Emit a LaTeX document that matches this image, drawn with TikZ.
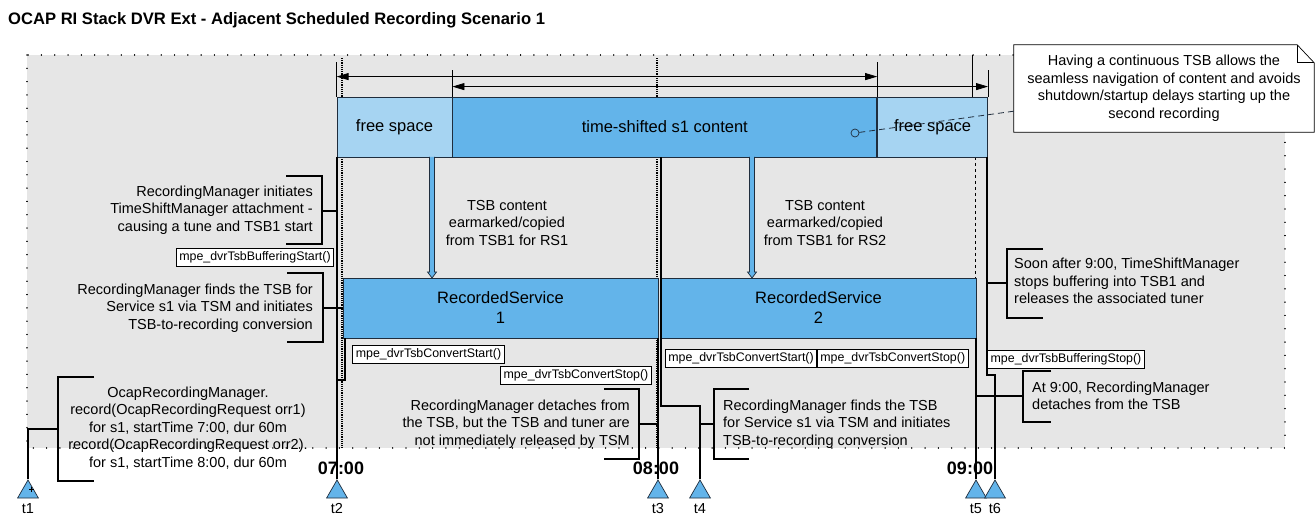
\documentclass[tikz,border=0pt]{standalone}
\usepackage{fontspec}
\setmainfont{Liberation Sans}
\usetikzlibrary{shapes.geometric}
\usetikzlibrary{positioning}
\usetikzlibrary{arrows.meta}
\usetikzlibrary{calc}
\definecolor{bggray}{RGB}{230,230,230}
\definecolor{tsblight}{RGB}{166,212,242}
\definecolor{tsbmid}{RGB}{99,180,234}
\definecolor{tsbedge}{RGB}{31,45,61}
\tikzset{
    tsbcell/.style = {rectangle, draw=tsbedge, line width=0.8pt, fill=tsbmid, minimum height=60pt, inner sep=0pt, font=\fontsize{16.5}{20}\selectfont},
    tsbfree/.style = {tsbcell, fill=tsblight},
    rscell/.style = {tsbcell, minimum width=315pt, align=center},
    apicall/.style = {rectangle, draw=black, line width=0.7pt, fill=white, minimum height=18pt, inner xsep=3pt, inner ysep=0pt, font=\fontsize{12.4}{14}\selectfont},
    note/.style = {inner sep=0pt, font=\fontsize{14.5}{17.5}\selectfont},
    mstone/.style = {regular polygon, regular polygon sides=3, draw=tsbedge, line width=0.7pt, fill=tsbmid, minimum size=24pt, inner sep=0pt, label={[note, label distance=5pt]below:#1}},
    tline/.style = {line width=2.6pt, black},
    brk/.style = {line width=2.6pt, black},
    dimline/.style = {line width=0.8pt, {Triangle[length=12pt,width=7pt]}-{Triangle[length=12pt,width=7pt]}},
    dimtick/.style = {line width=0.8pt, black},
    tmark/.style = {line width=1.2pt, densely dotted},
    hour/.style = {inner sep=0pt, font=\fontsize{18}{20}\selectfont\bfseries},
    copyarrow/.style = {draw=tsbedge, fill=tsbmid, line width=0.7pt},
    calloutline/.style = {line width=0.8pt, dash pattern=on 6pt off 4pt, tsbedge}
}
\newcommand{\U}{\_}

\begin{document}
\begin{tikzpicture}[x=1pt,y=-1pt]
\useasboundingbox (0,0) rectangle (1315,521);
\node[anchor=west, inner sep=0pt, font=\fontsize{16.6}{19}\selectfont\bfseries] at (8,20) (title) {OCAP RI Stack DVR Ext - Adjacent Scheduled Recording Scenario 1};
% background
\fill[bggray] (27,55) rectangle (1285,448);
\draw[line width=1.4pt, line cap=round, dash pattern=on 0.01pt off 13.3pt] (27,55) rectangle (1285,448);
% hour markers
\draw[tmark] (342,58) -- (342,448);
\draw[tmark] (657,58) -- (657,448);
\draw[line width=0.8pt] (972,55) -- (972,97);
\draw[line width=0.8pt, dashed] (975,157) -- (975,448);
\node[hour] at (341,468) (h7) {07:00};
\node[hour] at (656,468) (h8) {08:00};
\node[hour] at (970,468) (h9) {09:00};
%
\node[tsbfree, minimum width=115pt] at (394.5,127) (free1) {free space};
\node[tsbcell, minimum width=424pt, right=0pt of free1] (shifted) {time-shifted s1 content};
\node[tsbfree, minimum width=110pt, right=0pt of shifted] (free2) {free space};
%
\draw[dimtick] (free1.north west) -- ++(0,-35);
\draw[dimtick] (shifted.north east) -- ++(0,-35);
\draw[dimline] ($(free1.north west)+(0,-20)$) -- ($(shifted.north east)+(0,-20)$);
\draw[dimtick] (shifted.north west) -- ++(0,-27);
\draw[dimtick] (free2.north east) -- ++(0,-27);
\draw[dimline] ($(shifted.north west)+(0,-10)$) -- ($(free2.north east)+(0,-10)$);
%
\node[rscell] at (500.5,308) (rs1) {RecordedService\\1};
\node[rscell] at (818.5,308) (rs2) {RecordedService\\2};
%
\coordinate (cp1) at (432,157);
\coordinate (cp2) at (752,157);
\draw[copyarrow] (cp1) ++(-2.5,0) -- ++(0,115) -- ++(-2,0) -- ++(4.5,6) -- ++(4.5,-6) -- ++(-2,0) -- ++(0,-115);
\draw[copyarrow] (cp2) ++(-2.5,0) -- ++(0,115) -- ++(-2,0) -- ++(4.5,6) -- ++(4.5,-6) -- ++(-2,0) -- ++(0,-115);
\node[note, align=center] at (507,223) (copy1) {TSB content\\earmarked/copied\\from TSB1 for RS1};
\node[note, align=center] at (825,223) (copy2) {TSB content\\earmarked/copied\\from TSB1 for RS2};
%
\node[note, align=center] at (188,428) (ocapnote) {OcapRecordingManager.\\record(OcapRecordingRequest orr1)\\for s1, startTime 7:00, dur 60m\\record(OcapRecordingRequest orr2).\\for s1, startTime 8:00, dur 60m};
\node[note, align=right, anchor=east] at (313,210) (attachnote) {RecordingManager initiates\\TimeShiftManager attachment -\\causing a tune and TSB1 start};
\node[note, align=right, anchor=east] at (313,308) (findnote1) {RecordingManager finds the TSB for\\Service s1 via TSM and initiates\\TSB-to-recording conversion};
\node[note, align=right, anchor=east] at (630,424) (detachnote) {RecordingManager detaches from\\the TSB, but the TSB and tuner are\\not immediately released by TSM};
\node[note, align=left, anchor=west] at (723,424) (findnote2) {RecordingManager finds the TSB\\for Service s1 via TSM and initiates\\TSB-to-recording conversion};
\node[note, align=left, anchor=west] at (1014,281) (stopnote) {Soon after 9:00, TimeShiftManager\\stops buffering into TSB1 and\\releases the associated tuner};
\node[note, align=left, anchor=west] at (1032,396) (ninenote) {At 9:00, RecordingManager\\detaches from the TSB};
% brackets
\draw[brk] (94,377) -| (58,481) -- (94,481);
\draw[brk] (286,176) -| (322,244) -- (286,244);
\draw[brk] (287,273) -| (323,342) -- (287,342);
\draw[brk] (604,389) -| (639,459) -- (604,459);
\draw[brk] (749,389) -| (714,459) -- (749,459);
\draw[brk] (1043,249) -| (1007,318) -- (1043,318);
\draw[brk] (1051,371) -| (1023,422) -- (1051,422);
\coordinate (br1) at (58,429);
\coordinate (brA) at (322,211);
\coordinate (brB) at (323,308);
\coordinate (brC) at (639,424);
\coordinate (brD) at (714,424);
\coordinate (brE) at (1007,283);
\coordinate (brF) at (1023,396);
\coordinate (t2bend) at (345,380);
\coordinate (t4bend) at (661,406);
\coordinate (t4top) at (661,157);
\coordinate (t6bend) at (987,375);
\coordinate (t6top) at (987,157);
% milestones
\node[mstone=t1] at (28,492) (t1) {};
\node[mstone=t2] at (337,492) (t2) {};
\node[mstone=t3] at (658,492) (t3) {};
\node[mstone=t4] at (700,492) (t4) {};
\node[mstone=t5] at (976,492) (t5) {};
\node[mstone=t6] at (995,492) (t6) {};
\draw[line width=0.7pt] ($(t1.center)+(1.2,-3)$) -- ++(5,0);
\draw[line width=0.7pt] ($(t1.center)+(3.7,-5.5)$) -- ++(0,5);
%
\draw[tline] (t1.north) |- (br1);
\draw[tline] (t2.north) -- (t2.north |- free1.south);
\draw[tline] (t2.north) |- (brA);
\draw[tline] (t2.north) |- (t2bend) -- (t2bend |- rs1.south);
\draw[tline] (brB) -- (brB -| rs1.west);
\draw[tline] (t3.north) -- (t3.north |- rs1.south);
\draw[tline] (t3.north) |- (brC);
\draw[tline] (t4.north) |- (brD);
\draw[tline] (t4.north) |- (t4bend) -- (t4top);
\draw[tline] (t5.north) -- (t5.north |- rs2.south);
\draw[tline] (t5.north) |- (brF);
\draw[tline] (t6.north) |- (t6bend) -- (t6top);
\draw[tline] (t6top |- brE) -- (brE);
% api calls
\node[apicall] at (255,257) (bufstart) {mpe\U dvrTsbBufferingStart()};
\node[apicall] at (428.5,354.5) (cvstart1) {mpe\U dvrTsbConvertStart()};
\node[apicall] at (576,375.5) (cvstop1) {mpe\U dvrTsbConvertStop()};
\node[apicall] at (741,358) (cvstart2) {mpe\U dvrTsbConvertStart()};
\node[apicall, right=0pt of cvstart2] (cvstop2) {mpe\U dvrTsbConvertStop()};
\node[apicall] at (1066,359) (bufstop) {mpe\U dvrTsbBufferingStop()};
% callout
\node[note, align=center, fill=white, minimum width=300pt, minimum height=87pt] at (1164,88.5) (callout) {Having a continuous TSB allows the\\seamless navigation of content and avoids\\shutdown/startup delays starting up the\\second recording};
\draw[line width=0.7pt] (callout.north west) -- ($(callout.north east)+(-17,0)$) -- ($(callout.north east)+(0,18)$) -- (callout.south east) -- (callout.south west) -- cycle;
\draw[line width=0.7pt] ($(callout.north east)+(-17,0)$) |- ($(callout.north east)+(0,18)$);
\node[circle, draw=tsbedge, line width=0.7pt, inner sep=0pt, minimum size=8pt] at (855,133) (cdot) {};
\coordinate (cpt) at ($(callout.south west)+(0,-21)$);
\draw[calloutline] (cpt) -- (cdot);
\end{tikzpicture}
\end{document}
